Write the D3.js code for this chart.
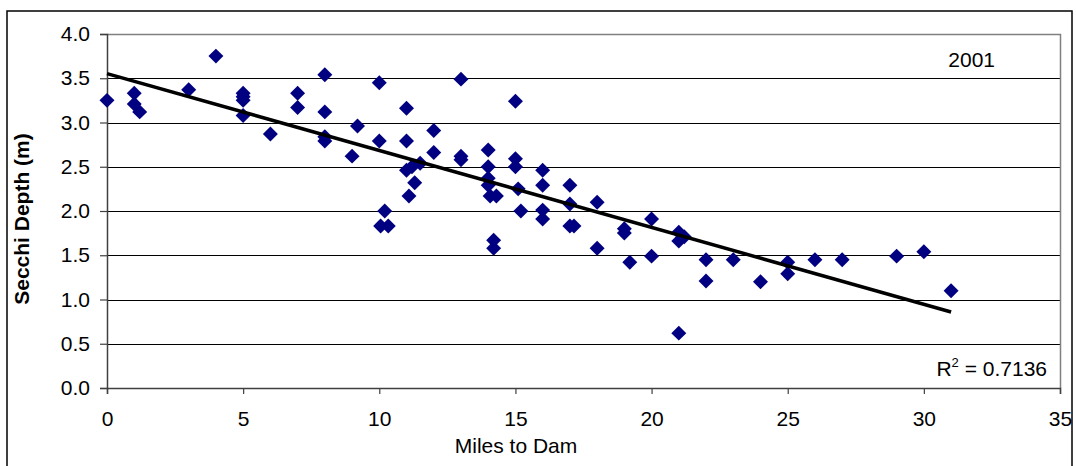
<!DOCTYPE html>
<html>
<head>
<meta charset="utf-8">
<script src="https://cdn.jsdelivr.net/npm/d3@7"></script>
<style>
  body { margin: 0; background: #fff; }
  text { font-family: "Liberation Sans", Arial, sans-serif; fill: #000; }
</style>
</head>
<body>
<svg id="chart" width="1076" height="466"></svg>
<script>
// miles to dam (x) and secchi depth in m (y)
const miles = [
  0, 1, 1, 1.2, 3, 4, 5, 5, 5, 5,
  6, 7, 7, 8, 8, 8, 8, 9, 9.2, 10,
  10, 10.2, 10.05, 10.33, 11, 11, 11, 11.2, 11.3, 11.5,
  11.09, 12, 12, 13, 13, 13, 14, 14, 14, 14,
  14.07, 14.3, 14.2, 14.2, 15, 15, 15, 15.1, 15.2, 16,
  16, 16, 16, 17, 17, 17, 17.15, 18, 18, 19,
  19, 19.2, 20, 20, 21, 21, 21, 21.2, 22, 22,
  23, 24, 25, 25, 26, 27, 29, 30, 31
];
const secchi = [
  3.25, 3.33, 3.21, 3.12, 3.37, 3.75, 3.33, 3.29, 3.25, 3.08,
  2.87, 3.33, 3.17, 3.54, 3.12, 2.84, 2.79, 2.62, 2.96, 3.45,
  2.79, 2.0, 1.83, 1.83, 3.16, 2.79, 2.46, 2.5, 2.32, 2.54,
  2.17, 2.91, 2.66, 3.49, 2.62, 2.58, 2.69, 2.5, 2.37, 2.29,
  2.17, 2.17, 1.67, 1.58, 3.24, 2.59, 2.5, 2.25, 2.0, 2.46,
  2.29, 2.01, 1.91, 2.29, 2.08, 1.83, 1.83, 2.1, 1.58, 1.8,
  1.75, 1.42, 1.91, 1.49, 1.76, 1.66, 0.62, 1.71, 1.45, 1.21,
  1.45, 1.2, 1.42, 1.29, 1.45, 1.45, 1.49, 1.54, 1.1
];
const xTicks = [0, 5, 10, 15, 20, 25, 30, 35];
const yTicks = [0, 0.5, 1, 1.5, 2, 2.5, 3, 3.5, 4];
const yearLabel = "2001";
const r2Value = "0.7136";

const data = miles.map((m, i) => ({ x: m, y: secchi[i] }));

const svg = d3.select("#chart");
const pLeft = 107, pRight = 1060, pTop = 34, pBottom = 388;
const fs = "21px";

// outer chart border
svg.append("rect")
  .attr("x", 7).attr("y", 11)
  .attr("width", 1065).attr("height", 470)
  .attr("fill", "#fff").attr("stroke", "#000").attr("stroke-width", 1.5);

const x = d3.scaleLinear().domain([0, 35]).range([pLeft, pRight]);
const y = d3.scaleLinear().domain([0, 4]).range([pBottom, pTop]);

// gridlines
svg.append("g")
  .selectAll("line")
  .data(yTicks.slice(1))
  .enter()
  .append("line")
  .attr("x1", pLeft).attr("x2", pRight)
  .attr("y1", d => Math.round(y(d)) + 0.5)
  .attr("y2", d => Math.round(y(d)) + 0.5)
  .attr("stroke", "#000").attr("stroke-width", 1);

// plot area border (top / right)
svg.append("path")
  .attr("d", `M${pLeft},${pTop + 0.5}H${pRight + 0.5}V${pBottom}`)
  .attr("fill", "none").attr("stroke", "#808080").attr("stroke-width", 1.5);

// axes
const gx = svg.append("g")
  .attr("transform", `translate(0,${pBottom})`)
  .call(d3.axisBottom(x).tickValues(xTicks).tickSize(6).tickPadding(17).tickFormat(d3.format("d")));
const gy = svg.append("g")
  .attr("transform", `translate(${pLeft},0)`)
  .call(d3.axisLeft(y).tickValues(yTicks).tickSize(7).tickPadding(10).tickFormat(d3.format(".1f")));

[gx, gy].forEach(g => {
  g.select(".domain").attr("stroke", "#404040").attr("stroke-width", 1.5);
  g.selectAll(".tick line").attr("stroke", "#404040").attr("stroke-width", 1.2);
  g.selectAll(".tick text")
    .attr("fill", "#000")
    .style("font-size", fs)
    .style("font-family", "'Liberation Sans', Arial, sans-serif");
});

// points
svg.append("g")
  .selectAll("path")
  .data(data)
  .enter()
  .append("path")
  .attr("d", d3.symbol(d3.symbolSquare, 112))
  .attr("transform", d => `translate(${x(d.x)},${y(d.y)}) rotate(45)`)
  .attr("fill", "#000080");

// linear trend line (least squares)
const mx = d3.mean(miles), my = d3.mean(secchi);
let sxy = 0, sxx = 0;
data.forEach(d => { sxy += (d.x - mx) * (d.y - my); sxx += (d.x - mx) * (d.x - mx); });
const slope = sxy / sxx, icpt = my - slope * mx;
const xr = d3.extent(miles);
svg.append("line")
  .attr("x1", x(xr[0])).attr("y1", y(icpt + slope * xr[0]))
  .attr("x2", x(xr[1])).attr("y2", y(icpt + slope * xr[1]))
  .attr("stroke", "#000").attr("stroke-width", 3.5);

// labels
svg.append("text")
  .attr("x", 995).attr("y", 67)
  .attr("text-anchor", "end")
  .style("font-size", fs)
  .text(yearLabel);

const r2 = svg.append("text")
  .attr("x", 1047).attr("y", 376)
  .attr("text-anchor", "end")
  .style("font-size", fs);
r2.append("tspan").text("R");
r2.append("tspan").attr("dy", -9).style("font-size", "13px").text("2");
r2.append("tspan").attr("dy", 9).text(" = " + r2Value);

svg.append("text")
  .attr("x", 516).attr("y", 453)
  .attr("text-anchor", "middle")
  .style("font-size", fs)
  .text("Miles to Dam");

svg.append("text")
  .attr("transform", "translate(29,219) rotate(-90)")
  .attr("text-anchor", "middle")
  .style("font-size", fs)
  .style("font-weight", "bold")
  .text("Secchi Depth (m)");
</script>
</body>
</html>
